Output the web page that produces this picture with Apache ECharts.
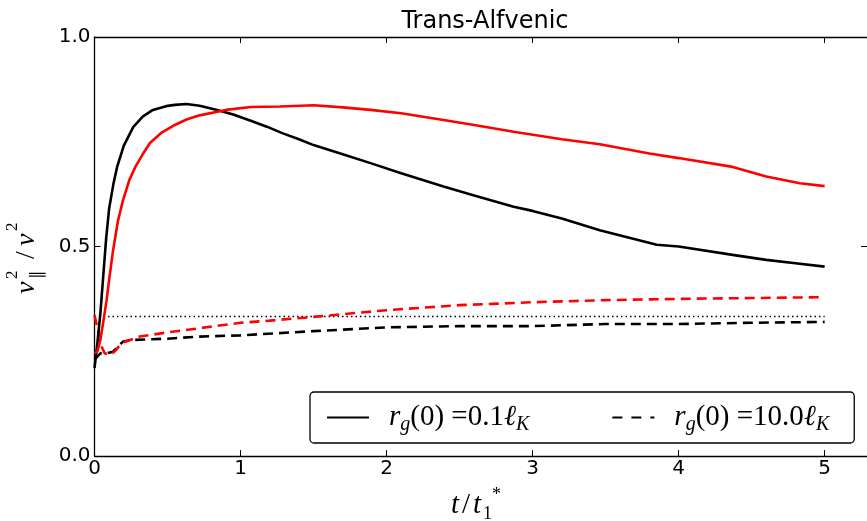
<!DOCTYPE html>
<html>
<head>
<meta charset="utf-8">
<script src="https://cdn.jsdelivr.net/npm/echarts@6/dist/echarts.min.js"></script>
<style>html,body{margin:0;padding:0;background:#fff}#main{width:867px;height:521px}</style>
</head>
<body>
<div id="main"></div>
<script>
// t/t1* on x, v_par^2/v^2 on y
var blackSolidX = [0, 0.02, 0.04, 0.06, 0.08, 0.1, 0.13, 0.155, 0.2, 0.265, 0.33, 0.4, 0.49, 0.55, 0.63, 0.72, 0.84, 0.95, 1.07, 1.18, 1.29, 1.4, 1.5, 1.7, 1.89, 2.1, 2.39, 2.6, 2.87, 3.0, 3.2, 3.46, 3.85, 4.0, 4.37, 4.6, 4.8, 5.0];
var blackSolidY = [0.21, 0.27, 0.34, 0.43, 0.52, 0.59, 0.65, 0.69, 0.74, 0.785, 0.81, 0.826, 0.835, 0.838, 0.84, 0.836, 0.826, 0.815, 0.80, 0.786, 0.77, 0.756, 0.742, 0.72, 0.699, 0.675, 0.643, 0.622, 0.595, 0.585, 0.567, 0.539, 0.504, 0.50, 0.48, 0.468, 0.46, 0.452];

var redSolidX = [0, 0.02, 0.04, 0.06, 0.083, 0.1, 0.127, 0.16, 0.195, 0.24, 0.28, 0.33, 0.38, 0.46, 0.55, 0.63, 0.72, 0.9, 1.07, 1.27, 1.5, 1.7, 1.89, 2.1, 2.39, 2.6, 2.87, 3.2, 3.46, 3.8, 4.0, 4.37, 4.6, 4.83, 5.0];
var redSolidY = [0.245, 0.25, 0.277, 0.32, 0.372, 0.42, 0.49, 0.56, 0.61, 0.66, 0.69, 0.72, 0.747, 0.772, 0.79, 0.803, 0.813, 0.826, 0.833, 0.834, 0.837, 0.832, 0.826, 0.818, 0.802, 0.79, 0.774, 0.756, 0.744, 0.722, 0.711, 0.69, 0.667, 0.651, 0.644];

var redDashX = [0, 0.03, 0.05, 0.07, 0.106, 0.14, 0.186, 0.243, 0.31, 0.5, 0.72, 1.0, 1.2, 1.5, 1.75, 2.0, 2.5, 3.0, 3.5, 4.0, 4.5, 5.0];
var redDashY = [0.336, 0.29, 0.26, 0.245, 0.241, 0.25, 0.27, 0.277, 0.285, 0.295, 0.305, 0.318, 0.323, 0.332, 0.34, 0.348, 0.36, 0.367, 0.372, 0.375, 0.377, 0.379];

var blackDashX = [0, 0.04, 0.083, 0.127, 0.195, 0.265, 0.5, 0.72, 1.0, 1.5, 2.0, 2.5, 3.0, 3.5, 4.0, 4.5, 5.0];
var blackDashY = [0.23, 0.245, 0.245, 0.249, 0.273, 0.277, 0.28, 0.285, 0.288, 0.298, 0.307, 0.31, 0.31, 0.315, 0.315, 0.318, 0.32];

var isoX = [0, 5];
var isoY = [0.333, 0.333];

var xTicks = [0, 1, 2, 3, 4, 5];
var yTicks = [0.0, 0.5, 1.0];
var legendNames = ['r_g(0)=0.1', 'r_g(0)=10.0'];

function pairs(xs, ys) {
    var out = [];
    for (var i = 0; i < xs.length; i++) out.push([xs[i], ys[i]]);
    return out;
}

var tickFont = 'DejaVu Sans';
var mathFont = 'Liberation Serif';

function axisX(pos, showLabel) {
    return {
        type: 'value', position: pos, min: 0, max: 5.29, interval: 1,
        axisLine: { show: true, onZero: false, lineStyle: { color: '#000', width: 1.3 } },
        axisTick: { show: true, inside: true, length: 6, lineStyle: { color: '#000', width: 1 } },
        axisLabel: {
            show: showLabel, color: '#000', fontSize: 20, fontFamily: tickFont, margin: 3,
            showMaxLabel: false,
            formatter: function (v) { return xTicks.indexOf(v) >= 0 ? String(v) : ''; }
        },
        splitLine: { show: false }
    };
}
function axisY(pos, showLabel) {
    // right spine lies just outside the picture: only its tick shows
    return {
        type: 'value', position: pos, min: 0, max: 1, interval: 0.5,
        axisLine: { show: showLabel, onZero: false, lineStyle: { color: '#000', width: 1.3 } },
        axisTick: { show: true, inside: true, length: 6, lineStyle: { color: '#000', width: 1 } },
        axisLabel: {
            show: showLabel, color: '#000', fontSize: 20, fontFamily: tickFont, margin: 4,
            formatter: function (v) { return v.toFixed(1); }
        },
        splitLine: { show: false }
    };
}

function mathText(x, y, txt, size, italic) {
    return {
        type: 'text', x: x, y: y,
        style: {
            text: txt, fill: '#000',
            font: (italic ? 'italic ' : '') + size + 'px "' + mathFont + '"',
            verticalAlign: 'middle'
        }
    };
}

var myChart = echarts.init(document.getElementById('main'));
var option = {
    animation: false,
    backgroundColor: '#fff',
    title: {
        text: 'Trans-Alfvenic', left: 480, top: 5, textAlign: 'center',
        textStyle: { fontFamily: tickFont, fontWeight: 'normal', fontSize: 24, color: '#000' }
    },
    grid: { left: 94.5, top: 37, right: 0, height: 419, containLabel: false },
    xAxis: [axisX('bottom', true), axisX('top', false)],
    yAxis: [axisY('left', true), axisY('right', false)],
    legend: {
        left: 310, top: 392,
        data: legendNames,
        orient: 'horizontal',
        itemWidth: 42, itemHeight: 14, itemGap: 82,
        padding: [8, 25, 8, 16],
        borderColor: '#000', borderWidth: 1.3, borderRadius: 4,
        backgroundColor: '#fff',
        itemStyle: { opacity: 0 },
        formatter: function (name) {
            var k = name.indexOf('10.0') >= 0 ? '10.0' : '0.1';
            return '{i|r}{s|g}{n|(0) =' + k + '}{i|\u2113}{s|K}';
        },
        textStyle: {
            padding: [0, 0, 0, 15],
            rich: {
                i: { fontFamily: mathFont, fontStyle: 'italic', fontSize: 29, color: '#000', lineHeight: 30 },
                n: { fontFamily: mathFont, fontSize: 29, color: '#000', lineHeight: 30 },
                s: { fontFamily: mathFont, fontStyle: 'italic', fontSize: 20, color: '#000', padding: [15, 0, 0, 0], lineHeight: 30 }
            }
        }
    },
    graphic: [
        {
            type: 'group', x: 27, y: 294, rotation: Math.PI / 2,
            children: [
                mathText(0, 0, 'v', 28, true),
                mathText(15, -14, '2', 17, false),
                mathText(15, 11, '\u2225', 17, false),
                mathText(35, 0, '/', 28, false),
                mathText(48, 0, 'v', 28, true),
                mathText(63, -14, '2', 17, false)
            ]
        },
        {
            type: 'group', x: 451, y: 505,
            children: [
                mathText(0, 0, 't', 29, true),
                mathText(11, 0, '/', 29, false),
                mathText(22, 0, 't', 29, true),
                mathText(32, 9, '1', 18, false),
                mathText(41, -10, '*', 18, false)
            ]
        }
    ],
    series: [
        { name: legendNames[0], type: 'line', data: [], symbol: 'none', itemStyle: { color: '#000' },
          lineStyle: { color: '#000', width: 2.5, type: 'solid' } },
        { name: legendNames[1], type: 'line', data: [], symbol: 'none', itemStyle: { color: '#000' },
          lineStyle: { color: '#000', width: 2.5, type: [10, 9] } },
        { name: 'iso', type: 'line', data: pairs(isoX, isoY), symbol: 'none', silent: true,
          lineStyle: { color: '#000', width: 1.5, type: [1.5, 3] } },
        { name: 'bd', type: 'line', data: pairs(blackDashX, blackDashY), symbol: 'none',
          lineStyle: { color: '#000', width: 2.6, type: [10, 6] } },
        { name: 'rd', type: 'line', data: pairs(redDashX, redDashY), symbol: 'none',
          lineStyle: { color: '#ff0000', width: 2.6, type: [10, 6] } },
        { name: 'bs', type: 'line', data: pairs(blackSolidX, blackSolidY), symbol: 'none',
          lineStyle: { color: '#000', width: 2.6 } },
        { name: 'rs', type: 'line', data: pairs(redSolidX, redSolidY), symbol: 'none',
          lineStyle: { color: '#ff0000', width: 2.6 } }
    ]
};
myChart.setOption(option);
</script>
</body>
</html>
